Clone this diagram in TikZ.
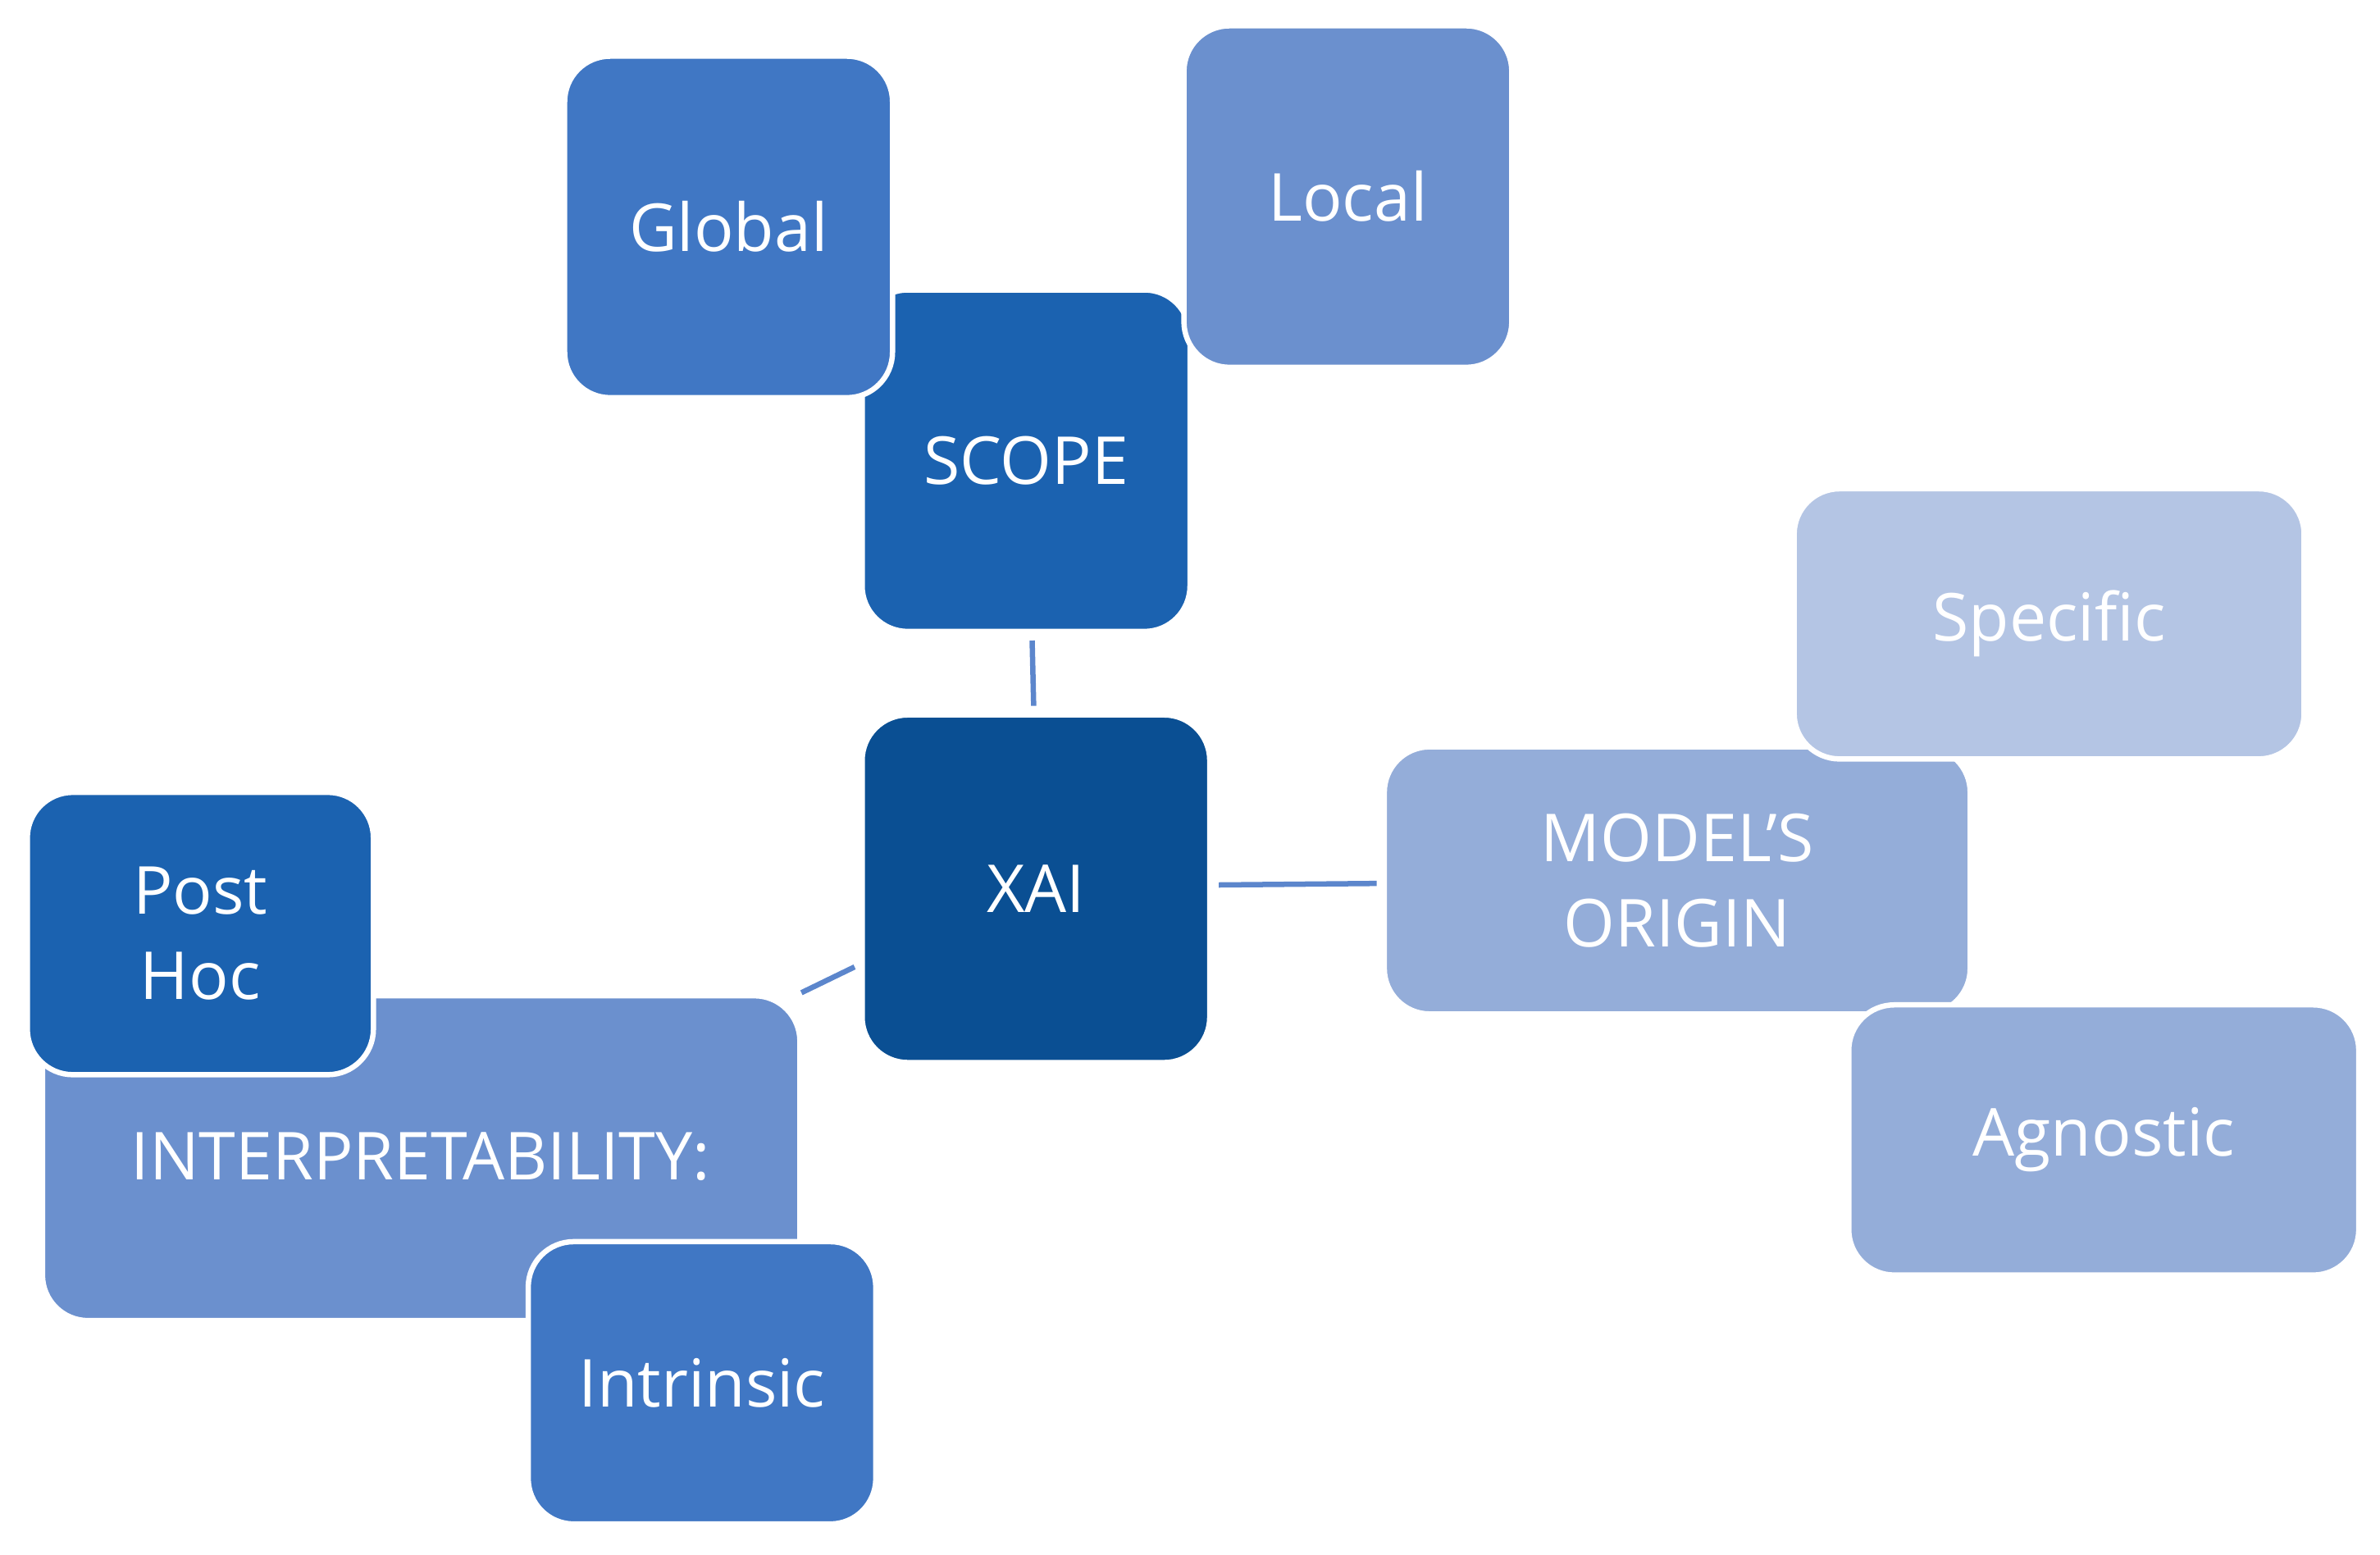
\documentclass[tikz,border=0pt]{standalone}
\usepackage{fontspec}
\setmainfont{Open Sans}
\begin{document}
\begin{tikzpicture}[x=0.05cm,y=-0.05cm,
 box/.style={draw=white,line width=5pt,rounded corners=1.5cm,text=white,align=center,
   font=\fontsize{62}{80}\selectfont},
 ln/.style={draw=c5,line width=5pt}]
\definecolor{c1}{HTML}{0A4F93}
\definecolor{c2}{HTML}{1B62B0}
\definecolor{c3}{HTML}{4077C4}
\definecolor{c4}{HTML}{6B90CE}
\definecolor{c5}{HTML}{5C86CC}
\definecolor{c6}{HTML}{94ADD9}
\definecolor{c7}{HTML}{B4C5E4}
\useasboundingbox (0,0) rectangle (1568,1024);
\newcommand\bx[7]{\path[box,fill=#6] (#1,#2) rectangle (#3,#4); \node[text=white,align=center,font=\fontsize{62}{80}\selectfont] (#7) at ({(#1+#3)/2},{(#2+#4)/2}) {#5};}
% lines
\coordinate (s1) at (680,422); \coordinate (s2) at (681,465);
\coordinate (m1) at (803,583); \coordinate (m2) at (907,582);
\coordinate (i1) at (528,654); \coordinate (i2) at (563,637);
\draw[ln] (s1)--(s2); \draw[ln] (m1)--(m2); \draw[ln] (i1)--(i2);
\bx{568}{191}{784}{416}{SCOPE}{c2}{scope}
\bx{372}{37}{588}{262}{Global}{c3}{global}
\bx{780}{17}{996}{242}{Local}{c4}{local}
\bx{568}{471}{797}{700}{XAI}{c1}{xai}
\bx{912}{492}{1298}{668}{MODEL'S\\ORIGIN}{c6}{model}
\bx{1182}{322}{1518}{500}{Specific}{c7}{specific}
\bx{1218}{662}{1554}{840}{Agnostic}{c6}{agnostic}
\path[box,fill=c4] (28,656) rectangle (527,870);
\node[text=white,font=\fontsize{62}{80}\selectfont] (interp) at (277,762) {INTERPRETABILITY:};
\bx{18}{522}{246}{708}{Post\\Hoc}{c2}{posthoc}
\bx{348}{818}{577}{1004}{Intrinsic}{c3}{intrinsic}
\end{tikzpicture}
\end{document}
